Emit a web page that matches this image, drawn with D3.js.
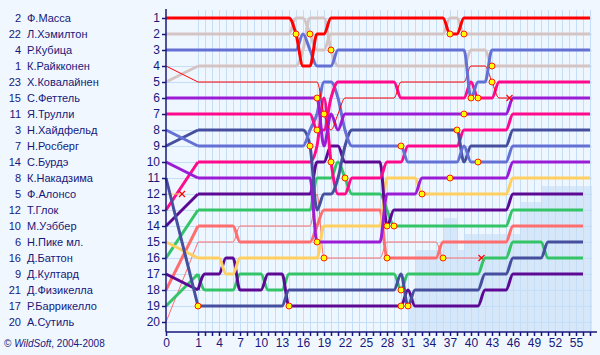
<!DOCTYPE html>
<html><head><meta charset="utf-8">
<script src="https://cdn.jsdelivr.net/npm/d3@7"></script>
<style>
html,body{margin:0;padding:0;background:#f0f7ff;}
svg{display:block;}
</style></head><body>
<svg id="c" width="600" height="355"></svg>
<script>
// ---- data ----
const driverNumbers = [2,22,4,1,23,15,11,3,7,14,8,5,12,10,6,16,9,21,17,20];
const driverNames = ["Ф.Масса","Л.Хэмилтон","Р.Кубица","К.Райкконен","Х.Ковалайнен","С.Феттель","Я.Трулли","Н.Хайдфельд","Н.Росберг","С.Бурдэ","К.Накадзима","Ф.Алонсо","Т.Глок","М.Уэббер","Н.Пике мл.","Д.Баттон","Д.Култард","Д.Физикелла","Р.Баррикелло","А.Сутиль"];
const lapTickLabels = [0,1,4,7,10,13,16,19,22,25,28,31,34,37,40,43,46,49,52,55];
const totalLaps = 57;

// position at each lap, lap 0 = grid
const massa      = [1,1,1,1,1,1,1,1,1,1,1,1,1,1,1, 2,4,4,2,2, 1,1,1,1,1,1,1,1,1,1,1,1,1,1,1,1,1, 2,2, 1,1,1,1,1,1,1,1,1,1,1,1,1,1,1,1,1,1,1];
const hamilton   = [2,2,2,2,2,2,2,2,2,2,2,2,2,2,2, 1,1,2,3,3, 2,2,2,2,2,2,2,2,2,2,2,2,2,2,2,2,2, 1,1, 2,2,2,2,2,2,2,2,2,2,2,2,2,2,2,2,2,2,2];
const kubica     = [3,3,3,3,3,3,3,3,3,3,3,3,3,3,3,3, 2, 3, 4,4,4, 3,3,3,3,3,3,3,3,3,3,3,3,3,3,3,3,3,3,3, 6, 5,5, 3,3,3,3,3,3,3,3,3,3,3,3,3,3,3];
const raikkonen  = [4, 5,5,5,5,5,5,5,5,5,5,5,5,5,5,5,5,5,5, 7,8,7, 6,6,6,6,6,6,6,6, 5,5,5,5,5,5,5,5,5,5, 4,4,4, 5, 6,6];
const kovalainen = [5, 4,4,4,4,4,4,4,4,4,4,4,4,4,4,4, 3, 1,1,1, 3, 4,4,4,4,4,4,4,4,4,4,4,4,4,4,4,4,4,4,4, 3,3,3, 4,4,4,4,4,4,4,4,4,4,4,4,4,4,4];
const vettel     = [6,6,6,6,6,6,6,6,6,6,6,6,6,6,6,6,6,6,6, 9,7,8, 7,7,7,7,7,7,7,7,7,7,7,7,7,7,7,7,7,7,7,7,7,7,7,7, 6,6,6,6,6,6,6,6,6,6,6,6];
const trulli     = [7,7,7,7,7,7,7,7,7,7,7,7,7,7,7,7,7,7, 8,8,6,5, 5,5,5,5,5,5,5,5, 6,6,6,6,6,6,6,6,6,6, 5, 6,6,6, 5,5,5,5,5,5,5,5,5,5,5,5,5,5];
const heidfeld   = [8, 9,9,9,9,9,9,9,9,9,9,9,9,9,9,9,9, 8,7,5,5,6,8, 9,9,9,9,9,9,9,9, 10,10,10,10,10,10,10,10, 9, 10,10,10,10,10,10, 9,9,9,9,9,9,9,9,9,9,9,9];
const rosberg    = [9, 8,8,8,8,8,8,8,8,8,8,8,8,8,8,8,8, 9,13,12,12,11,9, 8,8,8,8,8,8,8,8,8,8,8,8,8,8,8,8, 10, 9,9,9,9,9,9, 8,8,8,8,8,8,8,8,8,8,8,8];
const bourdais   = [10, 11,11,11,11,11,11,11,11,11,11,11,11,11,11,11,11,11, 15,15,15,15,15,15,15,15,15,15, 12,12,12,12,12, 11,11,11,11,11,11,11,11,11,11,11,11,11, 10,10,10,10,10,10,10,10,10,10,10,10];
const nakajima   = [11, 19,19,19,19,19,19,19,19,19,19,19,19,19, 18,18,18,18,18,18,18,18,18,18,18,18,18,18,18,18, 17,19, 18,18,18,18,18,18,18,18,18,18, 17,17,17,17, 16,16,16,16,16, 15,15,15,15,15,15];
const alonso     = [12];
const glock      = [13, 10,10,10,10,10,10,10,10,10,10,10,10,10,10,10,10,10, 9,6,10,12,12, 11,11,11,11,11, 10,10,10, 9,9,9,9,9,9,9,9, 8,8,8,8,8,8,8, 7,7,7,7,7,7,7,7,7,7,7,7];
const webber     = [14, 12,12,12,12,12,12,12,12,12,12,12,12,12,12,12,12,12, 10,10,9,9, 10,10,10,10,10,10, 14, 13,13,13,13,13,13,13,13,13,13,13,13,13,13,13,13,13, 12,12,12,12,12,12,12,12,12,12,12];
const piquet     = [15, 16,16,16,16, 17,17, 16,16,16,16,16,16,16,16,16,16,16,16, 14,14,14,14,14,14,14,14,14, 11,11,11,11,11, 12,12,12,12,12,12,12,12,12,12,12,12,12, 11,11,11,11,11,11,11,11,11,11,11,11];
const button     = [16, 13,13,13,13,13,13,13,13,13,13,13,13,13,13,13,13,13, 11,11,11,10,11, 12,12,12,12,12, 13, 14,14,14,14,14,14,14,14,14,14,14,14,14,14,14,14,14, 13,13,13,13,13,13,13,13,13,13,13];
const coulthard  = [17, 18, 17,17,17, 16,16, 18,18,18,18, 17,17,17, 19,19,19,19,19,19,19,19,19,19,19,19,19,19,19,19, 19,18, 19,19,19,19,19,19,19,19,19,19, 18,18,18,18, 17,17,17,17,17,17,17,17,17,17,17];
const fisichella = [18, 14,14,14,14,14,14, 15,15,15,15,15,15,15,15,15,15,15, 14, 13,13,13,13,13,13,13,13,13, 16,16,16,16,16,16,16,16, 15,15,15,15,15,15,15,15,15,15, 14,14,14,14,14,14,14,14,14,14,14];
const barrichello= [19, 17, 18,18,18,18,18, 17,17,17,17, 18,18,18, 17,17,17,17,17,17,17,17,17,17,17,17,17,17,17,17, 18, 17,17,17,17,17,17,17,17,17,17,17, 16,16,16,16, 15,15,15,15,15, 16,16,16,16,16,16];
const sutil      = [20, 15,15,15,15,15,15, 14,14,14,14,14,14,14,14,14,14,14, 12, 16,16,16,16,16,16,16,16,16, 15,15,15,15,15,15,15,15, 16,16,16,16,16,16];

const retired = [false,false,false,true,false,false,false,false,false,false,false,true,false,false,false,false,false,false,false,true];
// laps on which each driver pitted
const pitStops = [[15,37],[17,39],[40],[19,43],[20,43],[18,39],[18,41],[30,41],[17,38],[18,37],[1,31],[],[20],[28],[33],[22,29],[14,30],[28],[30],[19,36]];
// lapped-cars band: from lap, to lap, first lapped position
const shadeFromLap = [31,32,36,38,39,47,50];
const shadeToLap   = [32,36,38,39,47,50,57];
const shadeFirstPos= [19,16,14,16,15,13,12];

const positions = [massa,hamilton,kubica,raikkonen,kovalainen,vettel,trulli,heidfeld,rosberg,bourdais,nakajima,alonso,glock,webber,piquet,button,coulthard,fisichella,barrichello,sutil];

// ---- styles ----
const colors = ["#ff0000","#d4c4c4","#6470d4","#ff0000","#d4c4c4","#9a1cd4","#ff0a8c","#6470d4","#464e9e","#9a1cd4","#464e9e","#ffd060","#ff0a8c","#5c0a94","#ffd060","#34c468","#5c0a94","#ff6e6e","#34c468","#ff6e6e"];
const navy = "#18187a";
const font = "Arial, 'Liberation Sans', sans-serif";

const svg = d3.select("#c");
const x = d3.scaleLinear().domain([0,1,totalLaps]).range([166,198,590]);
const y = d3.scaleLinear().domain([1,20]).range([18,322]);

// plot background
svg.append("rect").attr("x",166).attr("y",9).attr("width",427).attr("height",323).attr("fill","#eef6ff");
// lapped band
const shadeData = shadeFromLap.map((l,i)=>({a:l,b:shadeToLap[i],p:shadeFirstPos[i]}));
svg.append("g").selectAll("rect").data(shadeData).join("rect")
  .attr("x",d=>x(d.a)).attr("width",d=>x(d.b)-x(d.a)+(d.b===totalLaps?2:0))
  .attr("y",d=>y(d.p-0.5)).attr("height",d=>332-y(d.p-0.5))
  .attr("fill","#d6e7fa").attr("shape-rendering","crispEdges");

// grid
const grid = svg.append("g").attr("shape-rendering","crispEdges");
grid.selectAll(".v").data(d3.range(1,totalLaps+1)).join("line")
  .attr("x1",d=>Math.round(x(d))+0.5).attr("x2",d=>Math.round(x(d))+0.5).attr("y1",10).attr("y2",332)
  .attr("stroke","#c4def8").attr("stroke-width",1);
grid.selectAll(".h").data(d3.range(1,21)).join("line")
  .attr("x1",166).attr("x2",592).attr("y1",d=>Math.round(y(d))+0.5).attr("y2",d=>Math.round(y(d))+0.5)
  .attr("stroke","#c4def8").attr("stroke-width",1);

// lines: straight from grid to lap 1, smooth afterwards
const curve = d3.line().x(d=>x(d[0])).y(d=>y(d[1])).curve(d3.curveMonotoneX);
const lin = d3.line().x(d=>x(d[0])).y(d=>y(d[1]));
const order = d3.range(positions.length).reverse();
const lg = svg.append("g").attr("fill","none").attr("stroke-linejoin","round");
order.forEach(i=>{
  const p = positions[i];
  const w = retired[i]?1:3;
  if(p.length>1){
    lg.append("path").attr("d",lin([[0,p[0]],[1,p[1]]])).attr("stroke",colors[i]).attr("stroke-width",w);
    const rest = p.map((v,l)=>[l,v]).slice(1);
    if(rest.length>1) lg.append("path").attr("d",curve(rest)).attr("stroke",colors[i]).attr("stroke-width",w);
  }
  if(retired[i]){
    const last = p.length-1;
    const xe = x(last+0.5), ye = y(p[last]);
    lg.append("line").attr("x1",x(last)).attr("x2",xe).attr("y1",ye).attr("y2",ye).attr("stroke",colors[i]).attr("stroke-width",1);
    lg.append("path").attr("d",`M${xe-3},${ye-3}L${xe+3},${ye+3}M${xe-3},${ye+3}L${xe+3},${ye-3}`)
      .attr("stroke","#ff0000").attr("stroke-width",1.2);
  }
});
// pit dots
const dots = [];
pitStops.forEach((ps,i)=>ps.forEach(l=>dots.push({lap:l,pos:positions[i][l]})));
svg.append("g").selectAll("circle").data(dots).join("circle")
  .attr("cx",d=>x(d.lap)).attr("cy",d=>y(d.pos)).attr("r",3)
  .attr("fill","#ffff00").attr("stroke","#ff2000").attr("stroke-width",1);

// axes
const yAxis = d3.axisLeft(y).tickValues(d3.range(1,21)).tickSize(4).tickPadding(2);
const ya = svg.append("g").attr("transform","translate(166,0)").call(yAxis);
ya.select(".domain").attr("d","M0,9V332");
const xAxis = d3.axisBottom(x).tickValues(d3.range(0,totalLaps+1)).tickSize(4).tickPadding(2)
  .tickFormat(d=>lapTickLabels.includes(d)?d:"");
const xa = svg.append("g").attr("transform","translate(0,332)").call(xAxis);
xa.select(".domain").attr("d","M166,0H597");
[ya,xa].forEach(a=>{
  a.selectAll("path,line").attr("stroke",navy).attr("stroke-width",1.5);
  a.selectAll("text").attr("fill",navy).attr("font-family",font).attr("font-size",12);
});

// driver list
const lst = svg.append("g").attr("font-family",font).attr("font-size",11).attr("fill",navy);
lst.selectAll(".n").data(driverNumbers).join("text").attr("x",21).attr("y",(d,i)=>y(i+1)+4).attr("text-anchor","end").text(d=>d);
lst.selectAll(".m").data(driverNames).join("text").attr("x",27).attr("y",(d,i)=>y(i+1)+4).text(d=>d);

// copyright
const cp = svg.append("text").attr("x",4).attr("y",347).attr("font-family",font).attr("font-size",10).attr("fill",navy);
cp.append("tspan").text("© ");
cp.append("tspan").attr("font-style","italic").text("WildSoft");
cp.append("tspan").text(", 2004-2008");
</script>
</body></html>
